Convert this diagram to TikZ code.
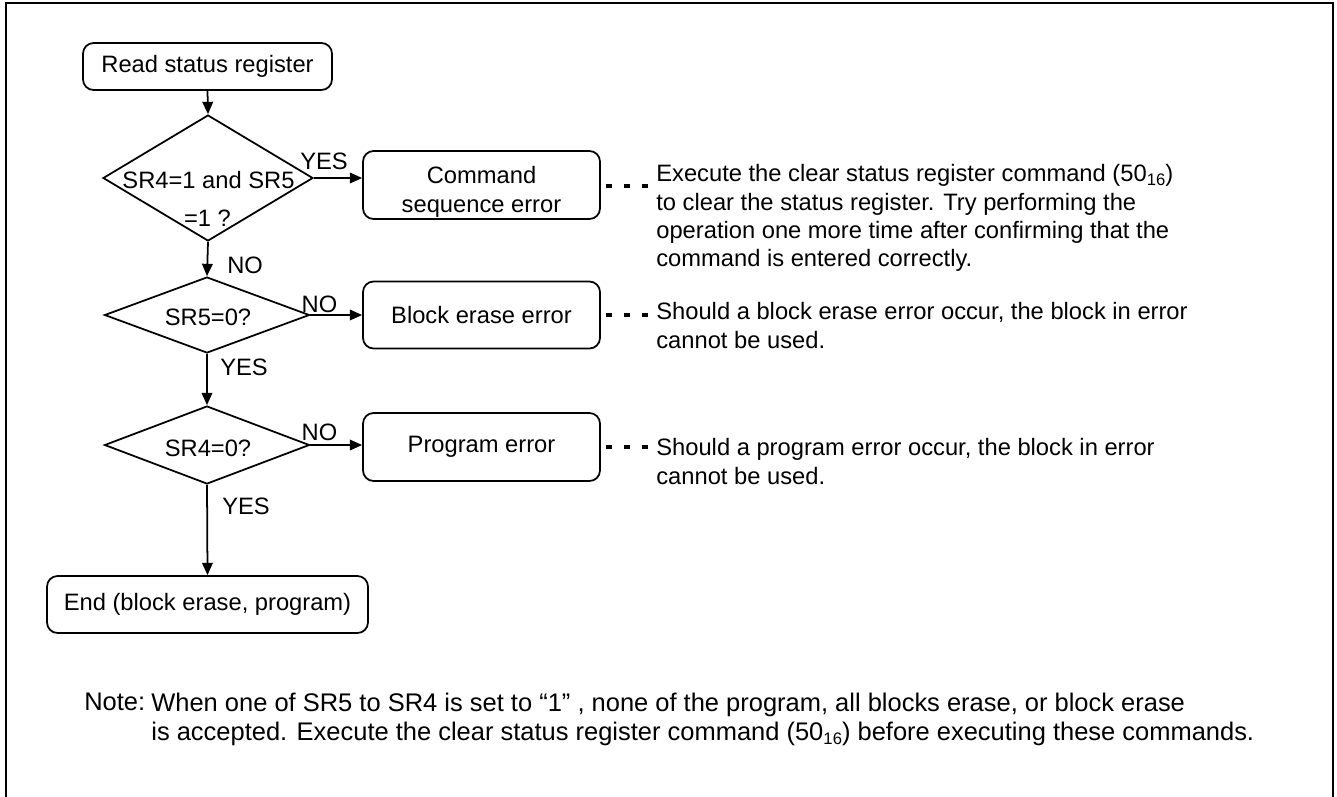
\documentclass[tikz,border=0pt]{standalone}
\usepackage{fontspec}
\setmainfont{Liberation Sans}
\usetikzlibrary{shapes.geometric,arrows.meta}
\newcommand{\subsixteen}{\raisebox{-0.3ex}{\fontsize{9.5}{10}\selectfont 16}}
\begin{document}
\begin{tikzpicture}[x=0.02cm,y=-0.02cm,
  font=\fontsize{13.5}{16}\selectfont,
  flowbox/.style={draw,line width=1pt,rounded corners=6pt,inner sep=0pt},
  dia/.style={draw,diamond,line width=1pt,inner sep=0pt},
  flow/.style={line width=1pt,-{Triangle[length=7pt,width=6pt]}},
  dotline/.style={line width=1.8pt,dash pattern=on 3.4pt off 7pt},
  lbl/.style={inner sep=0pt},
  para/.style={inner sep=0pt,align=left,anchor=north west,font=\fontsize{13.5}{16.2}\selectfont},
  notepara/.style={inner sep=0pt,align=left,anchor=north west,font=\fontsize{14.5}{16.4}\selectfont}]
\useasboundingbox (0,0) rectangle (1337,796);
\draw[line width=1.6pt] (6,3) rectangle (1333,840);

% start
\node[flowbox,minimum width=4.98cm,minimum height=0.94cm] (start) at (207.5,66.5) {Read status register};

% decision 1
\node[dia,minimum width=4.2cm,minimum height=2.52cm] (d1) at (208,178) {};
\node[lbl] (d1a) at (208.5,180) {SR4=1 and SR5};
\node[lbl] (d1b) at (207.5,218) {=1 ?};

% command sequence error
\node[flowbox,minimum width=4.74cm,minimum height=1.36cm] (cmd) at (481.5,185) {};
\node[lbl] (cmda) at (481.5,175) {Command};
\node[lbl] (cmdb) at (481.5,207) {\strut sequence error};

% decision 2
\node[dia,minimum width=4.1cm,minimum height=1.52cm] (d2) at (207,315) {};
\node[lbl] (d2a) at (208,317) {SR5=0?};
\node[flowbox,minimum width=4.74cm,minimum height=1.34cm] (blk) at (481.5,315) {Block erase error};

% decision 3
\node[dia,minimum width=4.1cm,minimum height=1.56cm] (d3) at (207,445) {};
\node[lbl] (d3a) at (208,448) {SR4=0?};
\node[flowbox,minimum width=4.74cm,minimum height=1.36cm] (prg) at (481.5,447) {Program error};

% end
\node[flowbox,minimum width=6.42cm,minimum height=1.14cm] (end) at (207.5,604.5) {End (block erase, program)};

% connectors
\draw[flow] (start.south) -- (d1.north);
\draw[flow] (d1.east) -- (d1.east -| cmd.west);
\draw[flow] (d1.south) -- (d2.north);
\draw[flow] (d2.east) -- (d2.east -| blk.west);
\draw[flow] (d2.south) -- (d3.north);
\draw[flow] (d3.east) -- (d3.east -| prg.west);
\draw[flow] (d3.south) -- (end.north);

% branch labels
\node[lbl] (y1) at (324,161) {YES};
\node[lbl,anchor=west] (n1) at (227,265) {NO};
\node[lbl] (n2) at (319.5,304) {NO};
\node[lbl,anchor=west] (y2) at (220,367) {YES};
\node[lbl] (n3) at (319.5,432) {NO};
\node[lbl,anchor=west] (y3) at (222,506) {YES};

% explanations
\node[para] (t1) at (656,164) {Execute the clear status register command (50\subsixteen)\\to clear the status register. Try performing the\\operation one more time after confirming that the\\command is entered correctly.};
\node[para] (t2) at (656,302) {Should a block erase error occur, the block in error\\cannot be used.};
\node[para] (t3) at (656,438) {Should a program error occur, the block in error\\cannot be used.};
\coordinate (c1) at ([xshift=0.1cm]cmd.east |- 0,186);
\coordinate (c2) at ([xshift=0.1cm]blk.east);
\coordinate (c3) at ([xshift=0.1cm]prg.east);
\draw[dotline] (c1) -- (c1 -| t1.west);
\draw[dotline] (c2) -- (c2 -| t2.west);
\draw[dotline] (c3) -- (c3 -| t3.west);

% note
\node[notepara] (nt) at (84,693) {Note:};
\node[notepara] (ntx) at (151,693) {When one of SR5 to SR4 is set to “1” , none of the program, all blocks erase, or block erase\\is accepted. Execute the clear status register command (50\subsixteen) before executing these commands.};
\end{tikzpicture}
\end{document}
